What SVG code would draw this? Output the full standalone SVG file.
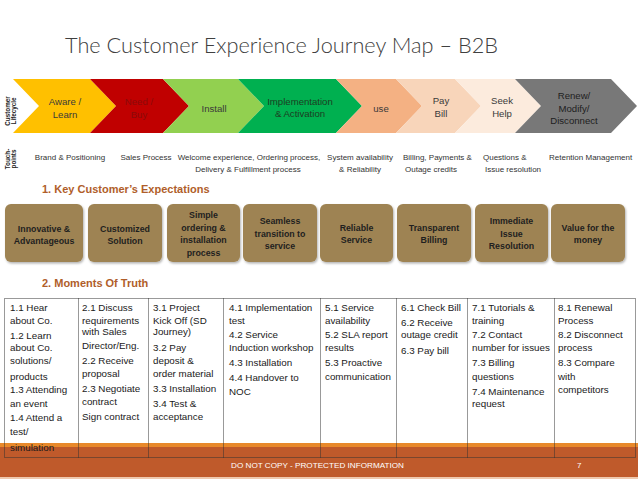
<svg xmlns="http://www.w3.org/2000/svg" width="638" height="479" viewBox="0 0 638 479">
<defs>
<style>
text{font-family:"Liberation Sans",Arial,sans-serif;}
.title{font-family:Lato,"Liberation Sans",sans-serif;font-weight:300;font-size:22px;fill:#404040;}
.chev{font-size:9.6px;fill:#3a3a3a;text-anchor:middle;}
.side{font-size:6.3px;font-weight:bold;fill:#222;text-anchor:middle;}
.tp{font-size:8px;fill:#333;}
.tpc{font-size:8px;fill:#333;text-anchor:middle;}
.hd{font-size:11px;font-weight:bold;fill:#B05E2A;}
.box{fill:#9E8352;}
.bt{font-size:8.8px;font-weight:bold;fill:#1f1f1f;text-anchor:middle;}
.cell{font-size:9.8px;fill:#1a1a1a;}
.dot{fill:none;stroke:#333;stroke-width:1;stroke-dasharray:1 1;}
</style>
<filter id="sh" x="-10%" y="-10%" width="125%" height="130%">
<feDropShadow dx="1" dy="1.5" stdDeviation="1" flood-color="#000" flood-opacity="0.3"/>
</filter>
</defs>
<rect width="638" height="479" fill="#ffffff"/>
<text class="title" x="65" y="53" textLength="433" lengthAdjust="spacingAndGlyphs">The Customer Experience Journey Map – B2B</text>

<g id="lifecycle-label">
<text class="side" transform="translate(10,111) rotate(-90)">Customer</text>
<text class="side" transform="translate(16,111) rotate(-90)">Lifecycle</text>
</g>
<g id="chev-aware"><polygon points="13,79 90,79 116,106 90,133 13,133 39,106" fill="#FFC000"/>
<text class="chev" x="65" y="104.5">Aware /</text><text class="chev" x="65" y="118">Learn</text></g>
<g id="chev-need"><polygon points="90,79 163,79 189,106 163,133 90,133 116,106" fill="#C00000"/>
<text class="chev" x="139" y="104.5" style="fill:#8a0a0a">Need /</text><text class="chev" x="139" y="118" style="fill:#8a0a0a">Buy</text></g>
<g id="chev-install"><polygon points="163,79 238,79 264,106 238,133 163,133 189,106" fill="#92D050"/>
<text class="chev" x="214" y="111.5">Install</text></g>
<g id="chev-impl"><polygon points="238,79 336,79 362,106 336,133 238,133 264,106" fill="#00B050"/>
<text class="chev" x="300" y="104.5" style="fill:#1d3d22">Implementation</text><text class="chev" x="300" y="116.5" style="fill:#1d3d22">&amp; Activation</text></g>
<g id="chev-use"><polygon points="336,79 396,79 422,106 396,133 336,133 362,106" fill="#F4B183"/>
<text class="chev" x="381" y="111.5">use</text></g>
<g id="chev-pay"><polygon points="396,79 455,79 481,106 455,133 396,133 422,106" fill="#F8D5BA"/>
<text class="chev" x="441" y="103.5">Pay</text><text class="chev" x="441" y="117">Bill</text></g>
<g id="chev-seek"><polygon points="455,79 515,79 541,106 515,133 455,133 481,106" fill="#FCEBDD"/>
<text class="chev" x="502" y="103.5">Seek</text><text class="chev" x="502" y="117">Help</text></g>
<g id="chev-renew"><polygon points="515,79 611,79 637,106 611,133 515,133 541,106" fill="#787878"/>
<text class="chev" x="574" y="98.5" style="fill:#1e1e1e">Renew/</text><text class="chev" x="574" y="111.5" style="fill:#1e1e1e">Modify/</text><text class="chev" x="574" y="124" style="fill:#1e1e1e">Disconnect</text></g>

<g id="touchpoints-label">
<text class="side" transform="translate(9.5,159) rotate(-90)">Touch-</text>
<text class="side" transform="translate(15.5,159) rotate(-90)">points</text>
</g>
<g id="touchpoints">
<text class="tpc" x="70" y="160">Brand &amp; Positioning</text>
<text class="tpc" x="146" y="160">Sales Process</text>
<text class="tpc" x="249" y="160">Welcome experience, Ordering process,</text>
<text class="tpc" x="248" y="172">Delivery &amp; Fulfillment process</text>
<text class="tpc" x="360" y="160">System availability</text>
<text class="tpc" x="360" y="172">&amp; Reliability</text>
<text class="tp" x="403" y="160">Billing, Payments &amp;</text>
<text class="tp" x="405" y="172">Outage credits</text>
<text class="tp" x="483" y="160">Questions &amp;</text>
<text class="tp" x="485" y="172">Issue resolution</text>
<text class="tp" x="549" y="160">Retention Management</text>
</g>

<text class="hd" x="42" y="193">1.  Key Customer’s Expectations</text>

<g id="exp-1"><rect class="box" x="5" y="204" width="78" height="58" rx="6" filter="url(#sh)"/>
<text class="bt" x="44" y="232">Innovative &amp;</text><text class="bt" x="44" y="244">Advantageous</text></g>
<g id="exp-2"><rect class="box" x="88" y="204" width="74" height="58" rx="6" filter="url(#sh)"/>
<text class="bt" x="125" y="232">Customized</text><text class="bt" x="125" y="244">Solution</text></g>
<g id="exp-3"><rect class="box" x="167" y="204" width="73" height="58" rx="6" filter="url(#sh)"/>
<text class="bt" x="203.5" y="218">Simple</text><text class="bt" x="203.5" y="231">ordering &amp;</text><text class="bt" x="203.5" y="243">installation</text><text class="bt" x="203.5" y="255.5">process</text></g>
<g id="exp-4"><rect class="box" x="243" y="204" width="74" height="58" rx="6" filter="url(#sh)"/>
<text class="bt" x="280" y="224">Seamless</text><text class="bt" x="280" y="236.5">transition to</text><text class="bt" x="280" y="249">service</text></g>
<g id="exp-5"><rect class="box" x="320" y="204" width="73" height="58" rx="6" filter="url(#sh)"/>
<text class="bt" x="356.5" y="231">Reliable</text><text class="bt" x="356.5" y="243">Service</text></g>
<g id="exp-6"><rect class="box" x="397" y="204" width="74" height="58" rx="6" filter="url(#sh)"/>
<text class="bt" x="434" y="231">Transparent</text><text class="bt" x="434" y="243">Billing</text></g>
<g id="exp-7"><rect class="box" x="475" y="204" width="73" height="58" rx="6" filter="url(#sh)"/>
<text class="bt" x="511.5" y="224">Immediate</text><text class="bt" x="511.5" y="236.5">Issue</text><text class="bt" x="511.5" y="249">Resolution</text></g>
<g id="exp-8"><rect class="box" x="551" y="204" width="74" height="58" rx="6" filter="url(#sh)"/>
<text class="bt" x="588" y="231">Value  for the</text><text class="bt" x="588" y="243">money</text></g>

<text class="hd" x="42" y="287">2.  Moments Of Truth</text>

<g id="footer-band">
<rect x="0" y="443" width="638" height="4" fill="#E8892B"/>
<rect x="0" y="447" width="638" height="30" fill="#BF5A2B"/>
<rect x="0" y="477" width="638" height="2" fill="#EFC9AE"/>
</g>

<g id="moments-table">
<rect class="dot" x="4.5" y="298.5" width="631" height="159"/>
<path class="dot" d="M78.5,298.5V457.5M148.5,298.5V457.5M223.5,298.5V457.5M320.5,298.5V457.5M396.5,298.5V457.5M467.5,298.5V457.5M554.5,298.5V457.5"/>
</g>
<g id="mot-1">
<text class="cell" x="10" y="311">1.1 Hear</text><text class="cell" x="10" y="323.5">about Co.</text>
<text class="cell" x="10" y="338.5">1.2 Learn</text><text class="cell" x="10" y="351">about Co.</text>
<text class="cell" x="10" y="364">solutions/</text><text class="cell" x="10" y="379.5">products</text>
<text class="cell" x="10" y="392.5">1.3 Attending</text><text class="cell" x="10" y="407">an event</text>
<text class="cell" x="10" y="421">1.4 Attend a</text><text class="cell" x="10" y="434.5">test/</text>
<text class="cell" x="10" y="451">simulation</text>
</g>
<g id="mot-2">
<text class="cell" x="82" y="311">2.1 Discuss</text><text class="cell" x="82" y="323.5">requirements</text>
<text class="cell" x="82" y="335">with Sales</text><text class="cell" x="82" y="348.5">Director/Eng.</text>
<text class="cell" x="82" y="364">2.2 Receive</text><text class="cell" x="82" y="376.5">proposal</text>
<text class="cell" x="82" y="391.5">2.3 Negotiate</text><text class="cell" x="82" y="404.5">contract</text>
<text class="cell" x="82" y="420">Sign contract</text>
</g>
<g id="mot-3">
<text class="cell" x="153" y="311">3.1 Project</text><text class="cell" x="153" y="323.5">Kick Off (SD</text>
<text class="cell" x="153" y="335">Journey)</text><text class="cell" x="153" y="351">3.2 Pay</text>
<text class="cell" x="153" y="364">deposit &amp;</text><text class="cell" x="153" y="376.5">order material</text>
<text class="cell" x="153" y="391.5">3.3 Installation</text><text class="cell" x="153" y="407">3.4 Test &amp;</text>
<text class="cell" x="153" y="420">acceptance</text>
</g>
<g id="mot-4">
<text class="cell" x="229" y="311">4.1 Implementation</text><text class="cell" x="229" y="323.5">test</text>
<text class="cell" x="229" y="338">4.2 Service</text><text class="cell" x="229" y="351">Induction workshop</text>
<text class="cell" x="229" y="366">4.3 Installation</text><text class="cell" x="229" y="381">4.4 Handover to</text>
<text class="cell" x="229" y="395">NOC</text>
</g>
<g id="mot-5">
<text class="cell" x="325" y="311">5.1 Service</text><text class="cell" x="325" y="323.5">availability</text>
<text class="cell" x="325" y="338">5.2 SLA report</text><text class="cell" x="325" y="351">results</text>
<text class="cell" x="325" y="366">5.3 Proactive</text><text class="cell" x="325" y="379.5">communication</text>
</g>
<g id="mot-6">
<text class="cell" x="401" y="311">6.1 Check Bill</text><text class="cell" x="401" y="326">6.2 Receive</text>
<text class="cell" x="401" y="338">outage credit</text><text class="cell" x="401" y="354">6.3 Pay bill</text>
</g>
<g id="mot-7">
<text class="cell" x="472" y="311">7.1 Tutorials &amp;</text><text class="cell" x="472" y="323.5">training</text>
<text class="cell" x="472" y="338">7.2 Contact</text><text class="cell" x="472" y="351">number for issues</text>
<text class="cell" x="472" y="366">7.3 Billing</text><text class="cell" x="472" y="379.5">questions</text>
<text class="cell" x="472" y="395">7.4 Maintenance</text><text class="cell" x="472" y="407">request</text>
</g>
<g id="mot-8">
<text class="cell" x="558" y="311">8.1 Renewal</text><text class="cell" x="558" y="323.5">Process</text>
<text class="cell" x="558" y="338">8.2 Disconnect</text><text class="cell" x="558" y="351">process</text>
<text class="cell" x="558" y="366">8.3 Compare</text><text class="cell" x="558" y="379.5">with</text>
<text class="cell" x="558" y="392.5">competitors</text>
</g>

<g id="footer-text">
<text x="231" y="468" font-size="7.5" fill="#ffffff" textLength="173" lengthAdjust="spacingAndGlyphs">DO NOT COPY - PROTECTED INFORMATION</text>
<text x="577" y="468" font-size="8" fill="#ffffff">7</text>
</g>
</svg>
